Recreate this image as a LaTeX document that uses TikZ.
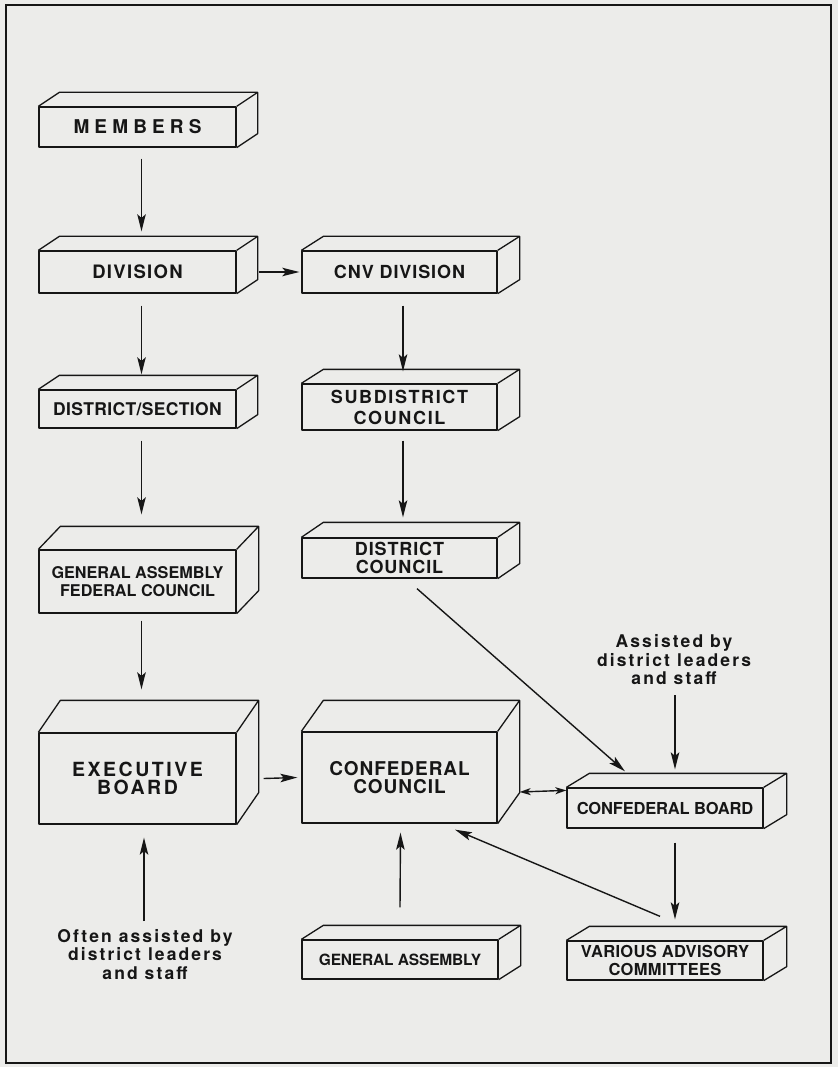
\documentclass[tikz,border=0pt]{standalone}
\usepackage{fontspec}
\setmainfont{TeX Gyre Heros}
\usetikzlibrary{arrows.meta,positioning,calc}

\definecolor{paper}{RGB}{236,236,234}
\definecolor{ink}{RGB}{22,22,22}

\tikzset{
  boxline/.style={draw=ink, line width=1.3pt, line join=round},
  orgbox/.style={boxline, inner sep=0pt, align=center, text=ink},
  lbl/.style n args={3}{font=\fontsize{#1}{#2}\selectfont\bfseries\addfontfeatures{LetterSpace=#3}},
  note/.style={align=center, text=ink, inner sep=0pt, lbl={17.5}{18.5}{12}},
  link/.style={draw=ink, line width=1.4pt, ->},
  >={Stealth[length=17pt,width=8.5pt,inset=3.5pt]},
}

% top and right faces of a box
\newcommand{\boxfaces}[2]{%
  \draw[boxline] (#1.north west) -- ++(#2) -- ($(#1.north east)+(#2)$)
    -- ($(#1.south east)+(#2)$) -- (#1.south east)
    (#1.north east) -- ++(#2);
}

\begin{document}
\begin{tikzpicture}[x=1pt,y=-1pt]
\useasboundingbox (0,0) rectangle (838,1067);
\fill[paper] (0,0) rectangle (838,1067);
\draw[ink, line width=1.4pt] (6,5) rectangle (831,1063);

% left column
\node[orgbox, lbl={19}{18}{27}, minimum width=197pt, minimum height=40pt] (members) at (137.5,127) {MEMBERS};
\boxfaces{members}{21,-14}
\node[orgbox, lbl={18.5}{18}{7}, minimum width=197pt, minimum height=42pt] (division) at (137.5,272) {DIVISION};
\boxfaces{division}{21,-14}
\node[orgbox, lbl={17.5}{18}{2}, minimum width=197pt, minimum height=38pt] (distsec) at (137.5,409) {DISTRICT/SECTION};
\boxfaces{distsec}{21,-14}
\node[orgbox, lbl={16.2}{17.5}{0}, minimum width=197pt, minimum height=63pt] (gafc) at (137.5,581.5) {GENERAL ASSEMBLY\\FEDERAL COUNCIL};
\boxfaces{gafc}{22,-23}
\node[orgbox, lbl={19.5}{17.5}{13}, minimum width=197pt, minimum height=91pt] (exec) at (137.5,778.5) {EXECUTIVE\\BOARD};
\boxfaces{exec}{22,-32}

% middle column
\node[orgbox, lbl={18}{18}{5}, minimum width=195pt, minimum height=42pt] (cnvdiv) at (399.5,272) {CNV DIVISION};
\boxfaces{cnvdiv}{22,-14}
\node[orgbox, lbl={18}{21}{9}, minimum width=195pt, minimum height=46pt] (subdist) at (399.5,407) {SUBDISTRICT\\COUNCIL};
\boxfaces{subdist}{22,-14}
\node[orgbox, lbl={18}{18.5}{5}, minimum width=195pt, minimum height=40pt] (distcouncil) at (399.5,558) {DISTRICT\\COUNCIL};
\boxfaces{distcouncil}{22,-15}
\node[orgbox, lbl={19}{18}{5}, minimum width=195pt, minimum height=91pt] (confcouncil) at (399.5,777.5) {CONFEDERAL\\COUNCIL};
\boxfaces{confcouncil}{22,-31}
\node[orgbox, lbl={15.5}{17}{-1}, minimum width=196pt, minimum height=39pt] (genassembly) at (400,959.5) {GENERAL ASSEMBLY};
\boxfaces{genassembly}{22,-14}

% right column
\node[orgbox, lbl={16.5}{17}{-1}, minimum width=196pt, minimum height=40pt] (confboard) at (665,808) {CONFEDERAL BOARD};
\boxfaces{confboard}{23,-14}
\node[orgbox, lbl={16.5}{18}{2}, minimum width=196pt, minimum height=39pt] (vac) at (665,960.5) {VARIOUS ADVISORY\\COMMITTEES};
\boxfaces{vac}{23,-14}

\node[note] (assist) at (674,660) {Assisted by\\district leaders\\and staff};
\node[note] (often) at (145,954.5) {Often assisted by\\district leaders\\and staff};

% connectors
\draw[link] ([xshift=4pt,yshift=-11pt]members.south) -- ([xshift=4pt,yshift=19pt]division.north);
\draw[link] ([xshift=22pt]division.east) -- ([xshift=-2pt]cnvdiv.west);
\draw[link] ([xshift=4pt,yshift=-12pt]division.south) -- ([xshift=4pt,yshift=15pt]distsec.north);
\draw[link] ([xshift=3.5pt,yshift=-12pt]cnvdiv.south) -- ([xshift=3.5pt,yshift=12pt]subdist.north);
\draw[link] ([xshift=4pt,yshift=-12pt]distsec.south) -- ([xshift=4pt,yshift=35pt]gafc.north);
\draw[link] ([xshift=3.5pt,yshift=-10pt]subdist.south) -- ([xshift=3.5pt,yshift=20pt]distcouncil.north);
\draw[link] ([xshift=4pt,yshift=-7pt]gafc.south) -- ([xshift=4pt,yshift=43pt]exec.north);
\draw[link] ([xshift=27pt]exec.east) -- ([xshift=-4pt]confcouncil.west);
\draw[link, <->, >={Stealth[length=11pt,width=7pt,inset=3pt]}]
  ([xshift=22pt,yshift=-14.5pt]confcouncil.east) -- ([yshift=-3pt]confboard.north west);
\draw[link] ([xshift=17.5pt,yshift=-10pt]distcouncil.south) -- ([xshift=-40pt,yshift=16pt]confboard.north);
\draw[link] ([xshift=1pt,yshift=-10pt]assist.south) -- ([xshift=10pt,yshift=18pt]confboard.north);
\draw[link] ([xshift=10pt,yshift=-14pt]confboard.south) -- ([xshift=10pt,yshift=21pt]vac.north);
\draw[link] ([xshift=-5pt,yshift=24pt]vac.north) -- ([xshift=55.5pt,yshift=-6pt]confcouncil.south);
\draw[link] ([yshift=32pt]genassembly.north) -- ([xshift=1pt,yshift=-9pt]confcouncil.south);
\draw[link] ([xshift=-1pt,yshift=8pt]often.north) -- ([xshift=6.5pt,yshift=-13pt]exec.south);

\end{tikzpicture}
\end{document}
